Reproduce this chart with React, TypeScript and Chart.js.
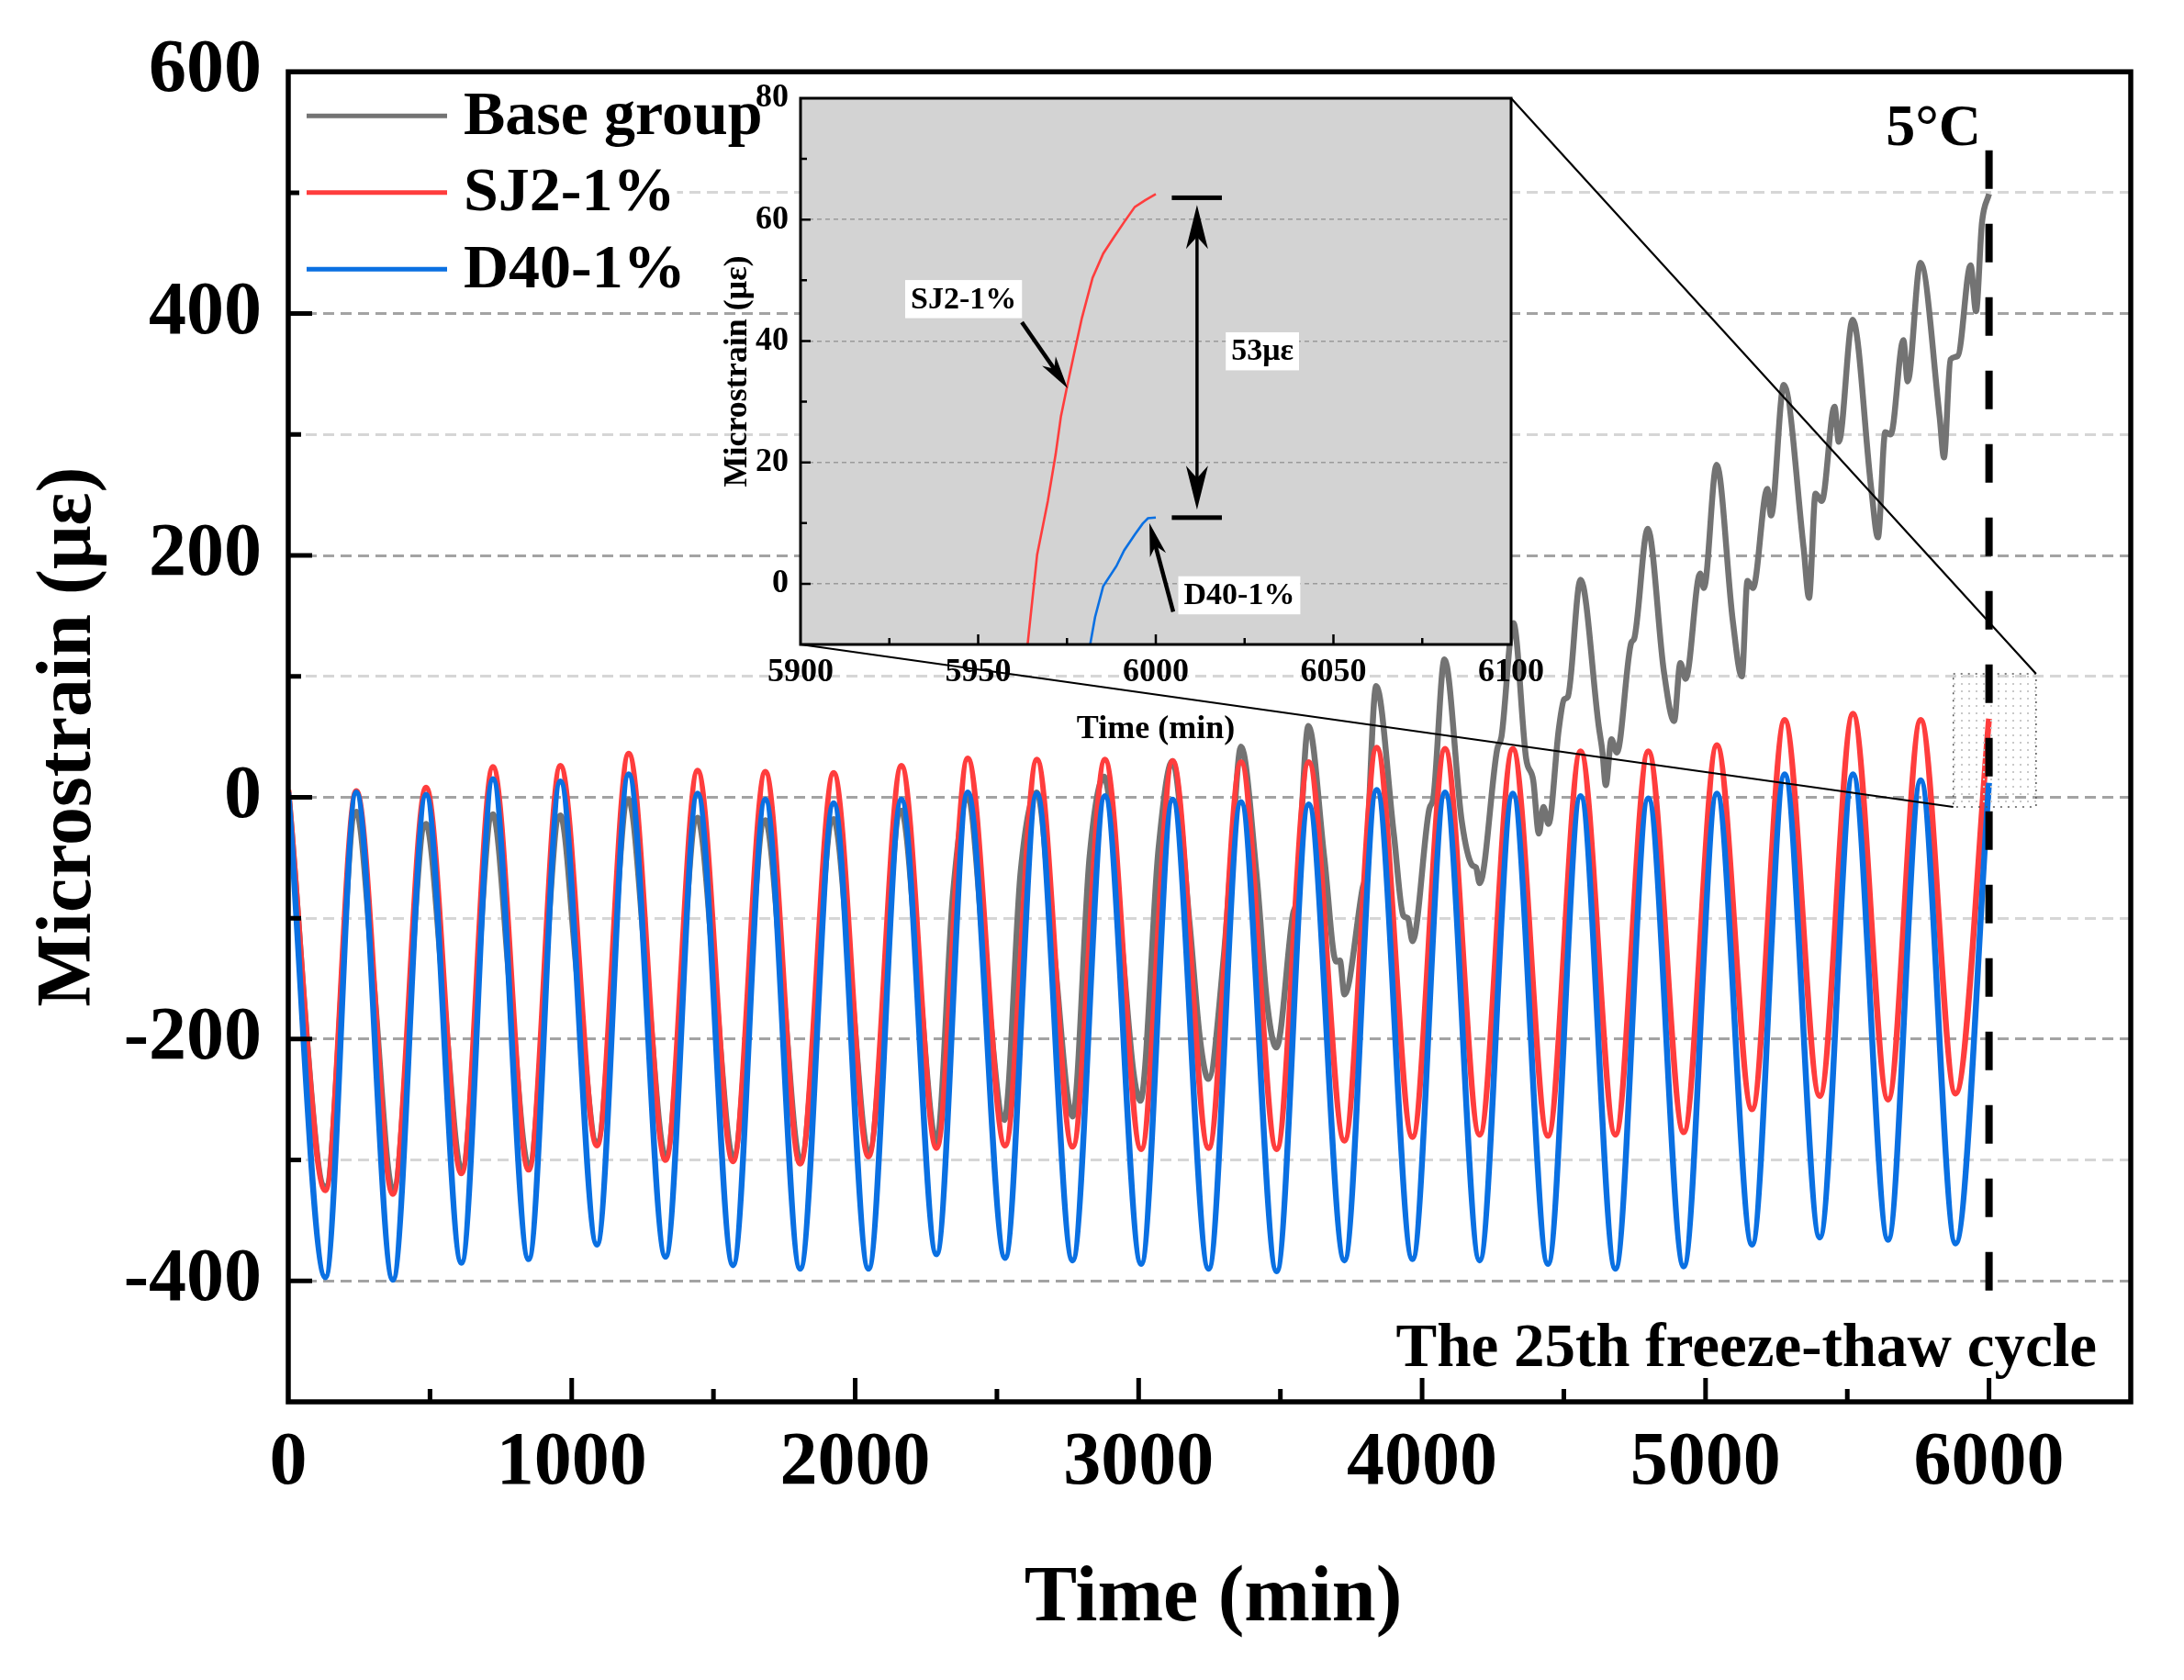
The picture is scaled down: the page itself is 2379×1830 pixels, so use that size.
import { useEffect, useRef } from "react";
import { Chart, registerables } from "chart.js";
import type { ChartConfiguration, Plugin } from "chart.js";

Chart.register(...registerables);

const PAGE_W = 2379;
const PAGE_H = 1830;
const SERIF = '"Liberation Serif", "Times New Roman", serif';

const GRAY = "#737373";
const RED = "#ff3d3d";
const BLUE = "#0a70e2";

// plot boxes in page pixels
const MAIN = { left: 314, top: 76, right: 2321, bottom: 1527 };
const INSET = { left: 872, top: 107, right: 1646, bottom: 702 };

// tick labels
const mainXLabels = [0, 1000, 2000, 3000, 4000, 5000, 6000];
const mainYLabels = [-400, -200, 0, 200, 400, 600];
const insetXLabels = [5900, 5950, 6000, 6050, 6100];
const insetYLabels = [0, 20, 40, 60, 80];

// times of the cycle extrema (min)
const troughTimes = [131, 369, 611, 848, 1089, 1331, 1569, 1806, 2047, 2287, 2529, 2767, 3009, 3247, 3487, 3726, 3966, 4203, 4444, 4682, 4923, 5164, 5403, 5644, 5882];
const peakTimes = [240, 486, 722, 960, 1201, 1444, 1683, 1924, 2163, 2397, 2641, 2881, 3120, 3361, 3600, 3840, 4081, 4320, 4559, 4798, 5040, 5279, 5520, 5759];

// SJ2-1%
const sj2Start = 6;
const sj2Troughs = [-325, -328, -311, -308, -288, -300, -301, -303, -297, -290, -288, -289, -291, -290, -291, -284, -281, -279, -280, -279, -277, -258, -247, -250, -245];
const sj2Peaks = [5, 8, 25, 26, 36, 22, 21, 20, 26, 32, 31, 31, 30, 29, 29, 41, 40, 40, 38, 38, 43, 64, 69, 64];
const sj2End = 65;

// D40-1%
const d40Start = 4;
const d40Troughs = [-397, -399, -385, -382, -370, -380, -387, -390, -390, -378, -381, -383, -386, -390, -392, -383, -382, -383, -386, -390, -388, -370, -364, -366, -369];
const d40Peaks = [4, 2, 15, 13, 19, 3, -2, -5, -2, 4, 3, 1, -2, -4, -6, 6, 4, 3, 1, -1, 3, 19, 19, 14];
const d40End = 12;

// Base group (read point by point, it drifts upward)
const grayTimes = [
  0, 131, 240, 300, 369, 486, 546, 611, 722, 783, 848, 960, 1020, 1089, 1201, 1262,
  1331, 1444, 1504, 1569, 1683, 1743, 1806, 1924, 1984, 2047, 2163, 2223, 2287, 2345,
  2397, 2455, 2526, 2584, 2641, 2700, 2767, 2827, 2878, 2940, 2981, 3006, 3070, 3119,
  3180, 3217, 3246, 3301, 3330, 3361, 3416, 3454, 3486, 3544, 3557, 3599, 3655, 3697,
  3710, 3726, 3790, 3800, 3838, 3900, 3934, 3950, 3966, 4025, 4040, 4079, 4140, 4176,
  4190, 4203, 4265, 4280, 4322, 4367, 4392, 4412, 4428, 4446, 4482, 4501, 4514, 4559,
  4623, 4636, 4648, 4668, 4687, 4738, 4748, 4796, 4853, 4889, 4911, 4930, 4981, 4994,
  5039, 5096, 5128, 5148, 5167, 5218, 5231, 5276, 5346, 5365, 5388, 5410, 5455, 5470,
  5519, 5585, 5608, 5634, 5653, 5698, 5713, 5758, 5826, 5841, 5864, 5890, 5935, 5954,
  5975, 6000,
];
const grayValues = [
  5, -322, -12, -150, -325, -22, -158, -308, -14, -160, -305, -15, -150, -285, -2, -140,
  -297, -17, -150, -298, -19, -152, -300, -18, -150, -294, -11, -145, -286, -80,
  2, -130, -267, -61, 4, -125, -264, -49, 17, -120, -226, -251, -43, 30,
  -105, -201, -233, -130, -40, 42, -64, -172, -207, -97, -85, 59, -50, -136,
  -135, -163, -75, -64, 92, -30, -98, -100, -119, -10, 0, 114, -20, -56,
  -58, -71, 40, 50, 144, 32, 14, -30, -8, -22, 56, 81, 83, 180,
  59, 38, 10, 48, 37, 128, 131, 222, 104, 63, 111, 98, 185, 173,
  275, 146, 100, 179, 173, 255, 233, 341, 206, 165, 251, 245, 323, 294,
  395, 254, 215, 302, 300, 378, 344, 442, 314, 281, 362, 365, 440, 402,
  475, 499,
];

// inset: the last minutes of the 25th cycle
const insetSj2Times = [5963.9, 5966.6, 5969.6, 5971.8, 5973.3, 5975.1, 5977.0, 5979.2, 5982.2, 5985.2, 5988.1, 5991.1, 5994.1, 5997.0, 6000.0];
const insetSj2Values = [-10.1, 4.8, 13.6, 21.3, 27.6, 32.7, 37.9, 43.8, 50.4, 54.4, 57.0, 59.6, 62.1, 63.2, 64.2];
const insetD40Times = [5981.5, 5982.9, 5985.2, 5988.9, 5991.1, 5994.1, 5996.3, 5997.8, 6000.0];
const insetD40Values = [-10.1, -5.5, -0.4, 2.9, 5.5, 8.1, 9.9, 10.8, 10.9];

// annotation anchors (data units)
const markTime = 6000;
const zoomWindow = { t0: 5874, t1: 6166, v0: -8, v1: 102 };
const gapTop = 63.6;
const gapBottom = 10.9;

const cyclePoints = (start: number, troughs: number[], peaks: number[], end: number) => {
  const pts = [{ x: 0, y: start }];
  troughs.forEach((v, i) => {
    pts.push({ x: troughTimes[i], y: v });
    if (i < peaks.length) pts.push({ x: peakTimes[i], y: peaks[i] });
  });
  pts.push({ x: 6000, y: end });
  return pts;
};

const zip = (xs: number[], ys: number[]) => xs.map((x, i) => ({ x, y: ys[i] }));

const bold = (size: number) => `bold ${size}px ${SERIF}`;

function arrowHead(ctx: CanvasRenderingContext2D, tx: number, ty: number, fx: number, fy: number, len: number, half: number) {
  const a = Math.atan2(ty - fy, tx - fx);
  const c = Math.cos(a), s = Math.sin(a);
  const bx = tx - len * c, by = ty - len * s;
  const nx = tx - len * 0.72 * c, ny = ty - len * 0.72 * s;
  ctx.beginPath();
  ctx.moveTo(tx, ty);
  ctx.lineTo(bx - s * half, by + c * half);
  ctx.lineTo(nx, ny);
  ctx.lineTo(bx + s * half, by - c * half);
  ctx.closePath();
  ctx.fill();
}

function arrow(ctx: CanvasRenderingContext2D, x1: number, y1: number, x2: number, y2: number, width: number, len: number, half: number, both = false) {
  const a = Math.atan2(y2 - y1, x2 - x1);
  const c = Math.cos(a), s = Math.sin(a);
  ctx.lineWidth = width;
  ctx.beginPath();
  ctx.moveTo(both ? x1 + len * 0.7 * c : x1, both ? y1 + len * 0.7 * s : y1);
  ctx.lineTo(x2 - len * 0.7 * c, y2 - len * 0.7 * s);
  ctx.stroke();
  arrowHead(ctx, x2, y2, x1, y1, len, half);
  if (both) arrowHead(ctx, x1, y1, x2, y2, len, half);
}

function boxedText(ctx: CanvasRenderingContext2D, text: string, cx: number, cy: number, size: number) {
  ctx.font = bold(size);
  const w = ctx.measureText(text).width + 12;
  const h = size * 1.22;
  ctx.fillStyle = "#fff";
  ctx.fillRect(cx - w / 2, cy - h / 2, w, h);
  ctx.fillStyle = "#000";
  ctx.textAlign = "center";
  ctx.textBaseline = "middle";
  ctx.fillText(text, cx, cy + 1);
}

const mainDecor: Plugin<"line"> = {
  id: "mainDecor",
  afterDatasetsDraw(chart) {
    const { ctx } = chart;
    const x = chart.scales.x;
    const y = chart.scales.y;
    ctx.save();

    // dotted window that the inset magnifies
    const wx0 = x.getPixelForValue(zoomWindow.t0);
    const wx1 = x.getPixelForValue(zoomWindow.t1);
    const wy0 = y.getPixelForValue(zoomWindow.v1);
    const wy1 = y.getPixelForValue(zoomWindow.v0);
    const pc = document.createElement("canvas");
    pc.width = 8;
    pc.height = 8;
    const pctx = pc.getContext("2d");
    if (pctx) {
      pctx.fillStyle = "#c9c9c9";
      pctx.fillRect(0, 0, 2, 2);
      const pat = ctx.createPattern(pc, "repeat");
      if (pat) {
        ctx.fillStyle = pat;
        ctx.fillRect(wx0, wy0, wx1 - wx0, wy1 - wy0);
      }
    }
    ctx.setLineDash([2, 6]);
    ctx.lineWidth = 1.5;
    ctx.strokeStyle = "#555";
    ctx.strokeRect(wx0, wy0, wx1 - wx0, wy1 - wy0);

    // 5 °C marker
    const mx = x.getPixelForValue(markTime);
    ctx.setLineDash([42, 38]);
    ctx.lineWidth = 8;
    ctx.strokeStyle = "#000";
    ctx.beginPath();
    ctx.moveTo(mx, y.getPixelForValue(535));
    ctx.lineTo(mx, y.getPixelForValue(-413));
    ctx.stroke();

    // connectors to the inset
    ctx.setLineDash([]);
    ctx.lineWidth = 2.2;
    ctx.beginPath();
    ctx.moveTo(INSET.right, INSET.top);
    ctx.lineTo(wx1, wy0);
    ctx.moveTo(INSET.left, INSET.bottom);
    ctx.lineTo(wx0, wy1);
    ctx.stroke();
    ctx.restore();
  },
  afterDraw(chart) {
    const { ctx, chartArea: area } = chart;
    const x = chart.scales.x;
    const y = chart.scales.y;
    ctx.save();

    // inward ticks
    ctx.strokeStyle = "#000";
    ctx.lineWidth = 5;
    ctx.beginPath();
    for (let v = -400; v <= 500; v += 100) {
      const py = y.getPixelForValue(v);
      ctx.moveTo(area.left, py);
      ctx.lineTo(area.left + (v % 200 === 0 ? 26 : 14), py);
    }
    for (let t = 500; t <= 6000; t += 500) {
      const px = x.getPixelForValue(t);
      ctx.moveTo(px, area.bottom);
      ctx.lineTo(px, area.bottom - (t % 1000 === 0 ? 26 : 14));
    }
    ctx.stroke();

    // frame
    ctx.lineWidth = 5.5;
    ctx.strokeRect(area.left, area.top, area.right - area.left, area.bottom - area.top);

    // legend
    const rows = ["Base group", "SJ2-1%", "D40-1%"];
    ctx.font = bold(68);
    ctx.textBaseline = "middle";
    ctx.textAlign = "left";
    rows.forEach((label, i) => {
      const ds = chart.data.datasets.find((d) => d.label === label);
      const ry = area.top + 48 + i * 83.5;
      const tw = ctx.measureText(label).width;
      ctx.fillStyle = "#fff";
      ctx.fillRect(area.left + 12, ry - 38, 191 - 12 + tw + 2, 76);
      ctx.strokeStyle = (ds?.borderColor as string) ?? "#000";
      ctx.lineWidth = 5;
      ctx.beginPath();
      ctx.moveTo(area.left + 20, ry);
      ctx.lineTo(area.left + 173, ry);
      ctx.stroke();
      ctx.fillStyle = "#000";
      ctx.fillText(label, area.left + 191, ry + 2);
    });

    // texts
    ctx.fillStyle = "#000";
    ctx.textBaseline = "alphabetic";
    ctx.textAlign = "right";
    ctx.font = bold(64);
    ctx.fillText("5°C", 2158, 158);
    ctx.font = bold(67);
    ctx.fillText("The 25th freeze-thaw cycle", 2284, 1488);

    // axis titles
    ctx.textAlign = "center";
    ctx.font = bold(86);
    ctx.fillText("Time (min)", (area.left + area.right) / 2 + 4, 1765);
    ctx.save();
    ctx.translate(98, (area.top + area.bottom) / 2);
    ctx.rotate(-Math.PI / 2);
    ctx.font = bold(84);
    ctx.fillText("Microstrain (με)", 0, 0);
    ctx.restore();

    ctx.restore();
  },
};

const insetDecor: Plugin<"line"> = {
  id: "insetDecor",
  beforeDraw(chart) {
    const { ctx, chartArea: a } = chart;
    ctx.save();
    ctx.fillStyle = "#d3d3d3";
    ctx.fillRect(a.left, a.top, a.right - a.left, a.bottom - a.top);
    ctx.restore();
  },
  afterDraw(chart) {
    const { ctx, chartArea: a } = chart;
    const x = chart.scales.x;
    const y = chart.scales.y;
    ctx.save();
    ctx.strokeStyle = "#000";
    ctx.fillStyle = "#000";

    // inward ticks
    ctx.lineWidth = 2.5;
    ctx.beginPath();
    for (let v = 0; v <= 70; v += 10) {
      const py = y.getPixelForValue(v);
      ctx.moveTo(a.left, py);
      ctx.lineTo(a.left + (v % 20 === 0 ? 11 : 7), py);
    }
    for (let t = 5925; t <= 6075; t += 25) {
      const px = x.getPixelForValue(t);
      ctx.moveTo(px, a.bottom);
      ctx.lineTo(px, a.bottom - (t % 50 === 0 ? 11 : 7));
    }
    ctx.stroke();

    // frame
    ctx.lineWidth = 3;
    ctx.strokeRect(a.left, a.top, a.right - a.left, a.bottom - a.top);

    // gap markers
    const bx0 = x.getPixelForValue(6004.5);
    const bx1 = x.getPixelForValue(6018.6);
    const topY = y.getPixelForValue(gapTop);
    const botY = y.getPixelForValue(gapBottom);
    ctx.fillRect(bx0, topY - 2.5, bx1 - bx0, 5);
    ctx.fillRect(bx0, botY - 2.5, bx1 - bx0, 5);
    const ax = x.getPixelForValue(6011.6);
    arrow(ctx, ax, y.getPixelForValue(62.4), ax, y.getPixelForValue(12.2), 3.5, 48, 12, true);

    // pointers
    arrow(ctx, x.getPixelForValue(5962.3), y.getPixelForValue(43.1), x.getPixelForValue(5975.2), y.getPixelForValue(32.2), 4.5, 36, 9);
    arrow(ctx, x.getPixelForValue(6004.9), y.getPixelForValue(-4.6), x.getPixelForValue(5998.2), y.getPixelForValue(10.0), 4.5, 36, 9);

    // labels
    boxedText(ctx, "SJ2-1%", x.getPixelForValue(5945.9), y.getPixelForValue(46.9), 34);
    boxedText(ctx, "53με", x.getPixelForValue(6030), y.getPixelForValue(38.3), 34);
    boxedText(ctx, "D40-1%", x.getPixelForValue(6023.5), y.getPixelForValue(-1.9), 34);

    // axis titles
    ctx.fillStyle = "#000";
    ctx.textAlign = "center";
    ctx.textBaseline = "alphabetic";
    ctx.font = bold(36);
    ctx.fillText("Time (min)", (a.left + a.right) / 2, 804);
    ctx.save();
    ctx.translate(813, (a.top + a.bottom) / 2);
    ctx.rotate(-Math.PI / 2);
    ctx.fillText("Microstrain (με)", 0, 0);
    ctx.restore();
    ctx.restore();
  },
};

function mainConfig(): ChartConfiguration<"line"> {
  const tickFont = { family: SERIF, size: 82, weight: "bold" as const };
  return {
    type: "line",
    data: {
      datasets: [
        { label: "D40-1%", data: cyclePoints(d40Start, d40Troughs, d40Peaks, d40End), borderColor: BLUE, order: 0 },
        { label: "SJ2-1%", data: cyclePoints(sj2Start, sj2Troughs, sj2Peaks, sj2End), borderColor: RED, order: 1 },
        { label: "Base group", data: zip(grayTimes, grayValues), borderColor: GRAY, order: 2 },
      ],
    },
    options: {
      animation: false,
      responsive: false,
      devicePixelRatio: 1,
      layout: { padding: { left: 0, top: MAIN.top, right: PAGE_W - MAIN.right, bottom: 0 } },
      elements: {
        point: { radius: 0 },
        line: { borderWidth: 6.5, cubicInterpolationMode: "monotone", fill: false },
      },
      plugins: { legend: { display: false }, tooltip: { enabled: false } },
      scales: {
        x: {
          type: "linear",
          min: 0,
          max: 6500,
          grid: { display: false, drawTicks: false },
          border: { display: false },
          afterBuildTicks: (s) => {
            s.ticks = mainXLabels.map((value) => ({ value }));
          },
          ticks: {
            autoSkip: false,
            maxRotation: 0,
            minRotation: 0,
            padding: 19,
            color: "#000",
            font: tickFont,
            callback: (v) => String(v),
          },
          afterFit: (s) => {
            s.height = PAGE_H - MAIN.bottom;
          },
        },
        y: {
          type: "linear",
          min: -500,
          max: 600,
          grid: {
            drawTicks: false,
            lineWidth: 3,
            color: (c) => {
              const v = c.tick?.value;
              if (v === undefined || v <= -500 || v >= 600) return "rgba(0,0,0,0)";
              return v % 200 === 0 ? "#a3a3a3" : "#d6d6d6";
            },
          },
          border: { display: false, dash: [12, 7] },
          ticks: {
            stepSize: 100,
            autoSkip: false,
            padding: 29,
            color: "#000",
            font: tickFont,
            callback: (v) => (mainYLabels.includes(Number(v)) ? String(v) : ""),
          },
          afterFit: (s) => {
            s.width = MAIN.left;
          },
        },
      },
    },
    plugins: [mainDecor],
  };
}

function insetConfig(): ChartConfiguration<"line"> {
  const tickFont = { family: SERIF, size: 36, weight: "bold" as const };
  return {
    type: "line",
    data: {
      datasets: [
        { label: "D40-1%", data: zip(insetD40Times, insetD40Values), borderColor: BLUE },
        { label: "SJ2-1%", data: zip(insetSj2Times, insetSj2Values), borderColor: RED },
      ],
    },
    options: {
      animation: false,
      responsive: false,
      devicePixelRatio: 1,
      layout: {
        padding: {
          left: INSET.left - 100,
          top: INSET.top,
          right: PAGE_W - INSET.right,
          bottom: PAGE_H - INSET.bottom - 100,
        },
      },
      elements: {
        point: { radius: 0 },
        line: { borderWidth: 2.6, tension: 0, fill: false },
      },
      plugins: { legend: { display: false }, tooltip: { enabled: false } },
      scales: {
        x: {
          type: "linear",
          min: 5900,
          max: 6100,
          grid: { display: false, drawTicks: false },
          border: { display: false },
          ticks: {
            stepSize: 50,
            autoSkip: false,
            maxRotation: 0,
            minRotation: 0,
            padding: 9,
            color: "#000",
            font: tickFont,
            callback: (v) => (insetXLabels.includes(Number(v)) ? String(v) : ""),
          },
          afterFit: (s) => {
            s.height = 100;
          },
        },
        y: {
          type: "linear",
          min: -10,
          max: 80,
          grid: {
            drawTicks: false,
            lineWidth: 1.6,
            color: (c) => {
              const v = c.tick?.value;
              return v !== undefined && v >= 0 && v <= 60 && v % 20 === 0 ? "#9a9a9a" : "rgba(0,0,0,0)";
            },
          },
          border: { display: false, dash: [5, 4] },
          ticks: {
            stepSize: 10,
            autoSkip: false,
            padding: 13,
            color: "#000",
            font: tickFont,
            callback: (v) => (insetYLabels.includes(Number(v)) ? String(v) : ""),
          },
          afterFit: (s) => {
            s.width = 100;
          },
        },
      },
    },
    plugins: [insetDecor],
  };
}

export default function App() {
  const mainRef = useRef<HTMLCanvasElement | null>(null);
  const insetRef = useRef<HTMLCanvasElement | null>(null);

  useEffect(() => {
    if (!mainRef.current || !insetRef.current) return;
    const main = new Chart(mainRef.current, mainConfig());
    const inset = new Chart(insetRef.current, insetConfig());
    return () => {
      main.destroy();
      inset.destroy();
    };
  }, []);

  return (
    <div style={{ position: "absolute", left: 0, top: 0, width: PAGE_W, height: PAGE_H, background: "#fff" }}>
      <canvas ref={mainRef} width={PAGE_W} height={PAGE_H} style={{ position: "absolute", left: 0, top: 0 }} />
      <canvas ref={insetRef} width={PAGE_W} height={PAGE_H} style={{ position: "absolute", left: 0, top: 0 }} />
    </div>
  );
}
